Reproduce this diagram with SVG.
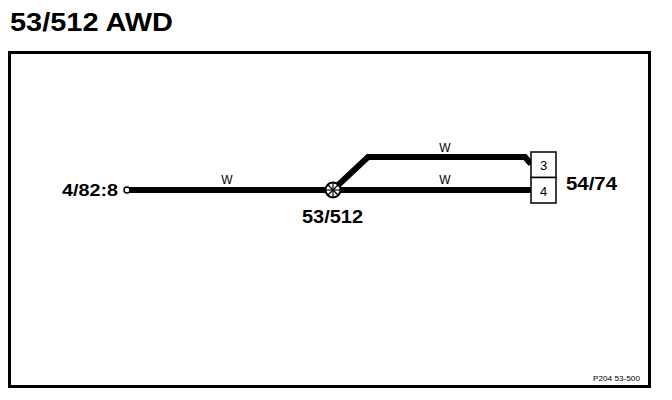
<svg xmlns="http://www.w3.org/2000/svg" width="672" height="400" viewBox="0 0 672 400">
<style>
.b{font-family:"Liberation Sans",Arial,sans-serif;font-weight:bold;fill:#000}
.n{font-family:"Liberation Sans",Arial,sans-serif;fill:#000}
.w{fill:none;stroke:#000;stroke-width:6;stroke-linejoin:miter}
</style>
<rect width="672" height="400" fill="#fff"/>
<text class="b" x="10" y="31" font-size="26" textLength="163" lengthAdjust="spacingAndGlyphs">53/512 AWD</text>
<rect x="9.5" y="52.5" width="640" height="334" fill="none" stroke="#000" stroke-width="3"/>
<g id="connectors">
<path class="w" d="M130 190 H531"/>
<path class="w" d="M335 188 L368 157 H525 L531 164"/>
<text class="n" x="227" y="184" font-size="12" text-anchor="middle">W</text>
<text class="n" x="445" y="152" font-size="12" text-anchor="middle">W</text>
<text class="n" x="445" y="184" font-size="12" text-anchor="middle">W</text>
</g>
<g id="node-4-82-8">
<circle cx="127" cy="190" r="3" fill="#fff" stroke="#000" stroke-width="1.5"/>
<text class="b" x="62" y="196" font-size="17" textLength="56" lengthAdjust="spacingAndGlyphs">4/82:8</text>
</g>
<g id="node-53-512">
<circle cx="333" cy="190" r="7.5" fill="#fff" stroke="#000" stroke-width="2"/>
<g stroke="#000" stroke-width="1.2">
<line x1="333" y1="183" x2="333" y2="197"/>
<line x1="326" y1="190" x2="340" y2="190"/>
<line x1="328" y1="185" x2="338" y2="195"/>
<line x1="338" y1="185" x2="328" y2="195"/>
</g>
<text class="b" x="302" y="223" font-size="18" textLength="61" lengthAdjust="spacingAndGlyphs">53/512</text>
</g>
<g id="node-54-74">
<rect x="531" y="152" width="25" height="25.5" fill="#fff" stroke="#000" stroke-width="1.5"/>
<rect x="531" y="177.5" width="25" height="25.5" fill="#fff" stroke="#000" stroke-width="1.5"/>
<text class="n" x="543.5" y="169.5" font-size="13" text-anchor="middle">3</text>
<text class="n" x="543.5" y="195.5" font-size="13" text-anchor="middle">4</text>
<text class="b" x="566" y="190" font-size="18" textLength="51" lengthAdjust="spacingAndGlyphs">54/74</text>
</g>
<text class="n" x="593" y="381" font-size="6.5" textLength="47" lengthAdjust="spacingAndGlyphs">P204  53-500</text>
</svg>
